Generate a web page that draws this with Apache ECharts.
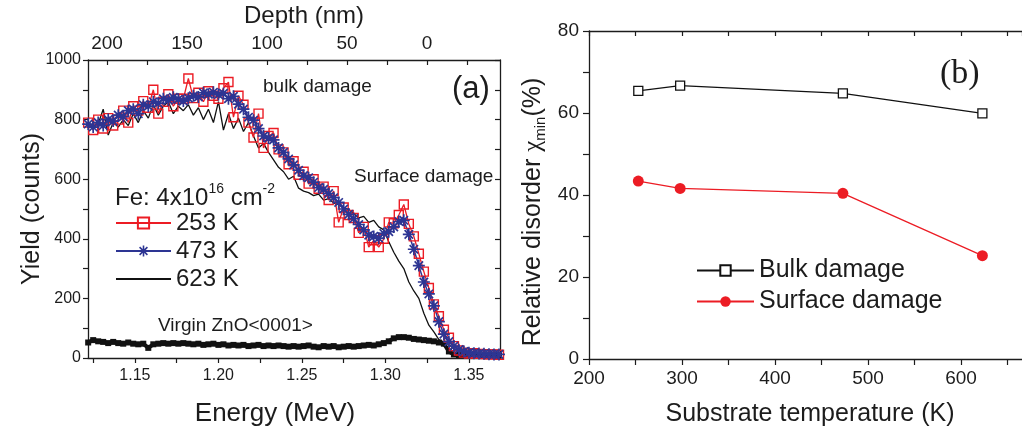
<!DOCTYPE html>
<html>
<head>
<meta charset="utf-8">
<script src="https://cdn.jsdelivr.net/npm/echarts@6/dist/echarts.min.js"></script>
<style>
  html, body { margin: 0; padding: 0; background: #fff; }
  #chart { width: 1022px; height: 432px; }
</style>
</head>
<body>
<div id="chart"></div>
<script>
// ---- (a) RBS/channeling spectra, Fe 4x10^16 cm^-2 in ZnO ----
const energyMeV = [
  1.122, 1.125, 1.128, 1.131, 1.134, 1.137, 1.140, 1.143, 1.146, 1.149,
  1.152, 1.155, 1.158, 1.161, 1.164, 1.167, 1.170, 1.173, 1.176, 1.179,
  1.182, 1.185, 1.188, 1.191, 1.194, 1.197, 1.200, 1.203, 1.206, 1.209,
  1.212, 1.215, 1.218, 1.221, 1.224, 1.227, 1.230, 1.233, 1.236, 1.239,
  1.242, 1.245, 1.248, 1.251, 1.254, 1.257, 1.260, 1.263, 1.266, 1.269,
  1.272, 1.275, 1.278, 1.281, 1.284, 1.287, 1.290, 1.293, 1.296, 1.299,
  1.302, 1.305, 1.308, 1.311, 1.314, 1.317, 1.320, 1.323, 1.326, 1.329,
  1.332, 1.335, 1.338, 1.341, 1.344, 1.347, 1.350, 1.353, 1.356, 1.359,
  1.362, 1.365, 1.368
];
const yield253K = [
  790, 765, 800, 770, 805, 780, 800, 830, 790, 845,
  830, 862, 840, 900, 820, 860, 885, 845, 870, 870,
  938, 872, 890, 860, 895, 880, 870, 905, 926, 808,
  880, 850, 790, 740, 820, 705, 745, 755, 700, 690,
  650, 660, 615, 625, 585, 600, 568, 575, 530, 560,
  455, 505, 480, 470, 420, 440, 372, 395, 372, 400,
  455, 452, 480, 515, 450, 408, 350, 290, 235, 180,
  140, 95, 68, 40, 25, 18, 15, 16, 14, 13,
  12, 12, 11
];
const yield473K = [
  785, 775, 790, 780, 800, 795, 815, 810, 830, 835,
  820, 850, 845, 860, 855, 870, 865, 875, 868, 862,
  872, 880, 876, 890, 885, 892, 884, 888, 870, 878,
  852, 835, 808, 798, 770, 745, 738, 732, 705, 690,
  668, 648, 630, 612, 605, 590, 572, 566, 552, 538,
  522, 500, 482, 468, 448, 430, 412, 408, 402, 418,
  424, 440, 458, 462, 415, 365, 310, 255, 215, 175,
  122, 80, 55, 40, 28, 22, 18, 16, 15, 14,
  13, 12, 12
];
const yield623K = [
  780, 770, 785, 835, 748, 790, 775, 800, 780, 820,
  790, 830, 805, 850, 815, 845, 860, 820, 845, 830,
  850, 815, 840, 800, 835, 790, 860, 765, 820, 770,
  805, 760, 790, 745, 705, 720, 690, 665, 640, 625,
  600, 610, 570, 560, 555, 545, 550, 530, 535, 520,
  515, 505, 498, 485, 470, 475, 455, 462, 440, 430,
  390, 355, 325, 300, 255, 225, 200, 150, 110, 88,
  62, 52, 45, 30, 20, 16, 14, 12, 12, 11,
  10, 10, 10
];
const yieldVirgin = [
  52, 60, 56, 54, 50, 54, 50, 48, 52, 48,
  46, 48, 34, 46, 48, 50, 48, 50, 48, 50,
  48, 46, 48, 44, 46, 48, 44, 46, 42, 44,
  42, 44, 40, 42, 44, 40, 42, 40, 42, 40,
  38, 40, 38, 40, 42, 38, 36, 40, 38, 40,
  36, 38, 40, 38, 40, 42, 44, 42, 46, 50,
  56, 66, 70, 70, 68, 64, 62, 60, 58, 56,
  52, 48, 22, 12, 10, 10, 8, 8, 8, 8,
  8, 8, 8
];
const energyTicks = [1.125, 1.15, 1.175, 1.2, 1.225, 1.25, 1.275, 1.3, 1.325, 1.35];
const energyLabels = [1.15, 1.2, 1.25, 1.3, 1.35];
const depthTicks = [200, 175, 150, 125, 100, 75, 50, 25, 0, -25];
const depthLabels = [200, 150, 100, 50, 0];

// ---- (b) relative disorder vs. substrate temperature ----
const substrateTempK = [253, 298, 473, 623];
const bulkDisorder = [65.4, 66.7, 64.8, 59.9];
const surfaceDisorder = [43.4, 41.6, 40.4, 25.2];

const FONT = '"Liberation Sans", Arial, Helvetica, sans-serif';
const SERIF = '"Liberation Serif", "Times New Roman", serif';
const INK = '#1c1c1c';
const RED = '#ec1c24';
const BLUE = '#2d3593';
// eight-armed asterisk built from four filled bars
const STAR = 'path://M4.3,0L5.7,0L5.7,10L4.3,10Z' +
             'M0,4.3L10,4.3L10,5.7L0,5.7Z' +
             'M2,1L9,8L8,9L1,2Z' +
             'M8,1L9,2L2,9L1,8Z';

const pairs = (xs, ys) => xs.map((x, i) => [x, ys[i]]);
const axisLine = { show: true, onZero: false, lineStyle: { color: INK, width: 1.3 } };
const tickStyle = { color: INK, width: 1.2 };

const chart = echarts.init(document.getElementById('chart'), null, { renderer: 'canvas' });

const option = {
  animation: false,
  backgroundColor: '#fff',
  textStyle: { fontFamily: FONT, color: INK },
  grid: [
    { left: 88, right: 522, top: 60, bottom: 74 },
    { left: 589, right: 0, top: 31, bottom: 73 }
  ],
  xAxis: [
    { // energy (bottom, panel a)
      gridIndex: 0, type: 'value', position: 'bottom',
      min: 1.1219, max: 1.3686,
      axisLine: axisLine,
      axisTick: { show: true, inside: false, length: 5, lineStyle: tickStyle, customValues: energyTicks },
      axisLabel: { customValues: energyLabels, formatter: v => v.toFixed(2), fontSize: 16, margin: 10, color: INK, fontFamily: FONT },
      splitLine: { show: false }
    },
    { // depth (top, panel a)
      gridIndex: 0, type: 'value', position: 'top', inverse: true,
      min: -45.6, max: 211.9,
      axisLine: axisLine,
      axisTick: { show: true, inside: true, length: 5, lineStyle: tickStyle, customValues: depthTicks },
      axisLabel: { customValues: depthLabels, fontSize: 19, margin: 7, color: INK, fontFamily: FONT },
      splitLine: { show: false }
    },
    { // temperature (bottom, panel b)
      gridIndex: 1, type: 'value', position: 'bottom',
      min: 200, max: 665.6, interval: 50,
      axisLine: axisLine,
      axisTick: { show: true, inside: false, length: 6, lineStyle: tickStyle },
      axisLabel: { formatter: v => (v % 100 === 0 ? String(v) : ''), fontSize: 19, margin: 10, color: INK, fontFamily: FONT, showMaxLabel: false },
      splitLine: { show: false }
    },
    { // temperature mirror (top, panel b)
      gridIndex: 1, type: 'value', position: 'top',
      min: 200, max: 665.6, interval: 50,
      axisLine: axisLine,
      axisTick: { show: true, inside: true, length: 5, lineStyle: tickStyle },
      axisLabel: { show: false },
      splitLine: { show: false }
    }
  ],
  yAxis: [
    { // yield (left, panel a)
      gridIndex: 0, type: 'value', position: 'left',
      min: 0, max: 1000, interval: 100,
      axisLine: axisLine,
      axisTick: { show: true, inside: false, length: 5, lineStyle: tickStyle },
      axisLabel: { formatter: v => (v % 200 === 0 ? String(v) : ''), fontSize: 16, margin: 7, color: INK, fontFamily: FONT },
      splitLine: { show: false }
    },
    { // yield mirror (right, panel a)
      gridIndex: 0, type: 'value', position: 'right',
      min: 0, max: 1000, interval: 100,
      axisLine: axisLine,
      axisTick: { show: true, inside: true, length: 5, lineStyle: tickStyle },
      axisLabel: { show: false },
      splitLine: { show: false }
    },
    { // disorder (left, panel b)
      gridIndex: 1, type: 'value', position: 'left',
      min: 0, max: 80, interval: 10,
      axisLine: axisLine,
      axisTick: { show: true, inside: false, length: 6, lineStyle: tickStyle },
      axisLabel: { formatter: v => (v % 20 === 0 ? String(v) : ''), fontSize: 19, margin: 10, color: INK, fontFamily: FONT },
      splitLine: { show: false }
    }
  ],
  legend: [
    {
      data: [
        { name: '253 K' },
        { name: '473 K' },
        { name: '623 K', itemStyle: { color: 'rgba(0,0,0,0)', borderColor: 'rgba(0,0,0,0)' } }
      ],
      orient: 'vertical', left: 115, top: 211, padding: 0,
      itemWidth: 55, itemHeight: 14, itemGap: 4, selectedMode: false,
      textStyle: { fontSize: 24, color: INK, fontFamily: FONT }
    },
    {
      data: ['Bulk damage', 'Surface damage'],
      orient: 'vertical', left: 696, top: 258, padding: 0,
      itemWidth: 57, itemHeight: 13, itemGap: 6, selectedMode: false,
      textStyle: { fontSize: 25, color: INK, fontFamily: FONT }
    }
  ],
  series: [
    {
      name: 'Virgin ZnO<0001>', type: 'line', xAxisIndex: 0, yAxisIndex: 0,
      data: pairs(energyMeV, yieldVirgin),
      symbol: 'rect', symbolSize: 6,
      itemStyle: { color: '#111' },
      lineStyle: { color: '#111', width: 4 },
      silent: true, emphasis: { disabled: true }
    },
    {
      name: '623 K', type: 'line', xAxisIndex: 0, yAxisIndex: 0,
      data: pairs(energyMeV, yield623K),
      symbol: 'none',
      itemStyle: { color: '#111' },
      lineStyle: { color: '#111', width: 1.3 },
      silent: true, emphasis: { disabled: true }
    },
    {
      name: '253 K', type: 'line', xAxisIndex: 0, yAxisIndex: 0,
      data: pairs(energyMeV, yield253K),
      symbol: 'rect', symbolSize: 9,
      itemStyle: { color: 'rgba(255,255,255,0)', borderColor: RED, borderWidth: 1.4 },
      lineStyle: { color: RED, width: 1.3 },
      silent: true, emphasis: { disabled: true }
    },
    {
      name: '473 K', type: 'line', xAxisIndex: 0, yAxisIndex: 0,
      data: pairs(energyMeV, yield473K),
      symbol: STAR, symbolSize: 12,
      itemStyle: { color: BLUE, borderWidth: 0 },
      lineStyle: { color: BLUE, width: 1.5 },
      silent: true, emphasis: { disabled: true }
    },
    {
      name: 'Bulk damage', type: 'line', xAxisIndex: 2, yAxisIndex: 2,
      data: pairs(substrateTempK, bulkDisorder),
      symbol: 'rect', symbolSize: 9,
      itemStyle: { color: '#fff', borderColor: '#111', borderWidth: 1.3 },
      lineStyle: { color: '#111', width: 1.2 },
      silent: true, emphasis: { disabled: true }
    },
    {
      name: 'Surface damage', type: 'line', xAxisIndex: 2, yAxisIndex: 2,
      data: pairs(substrateTempK, surfaceDisorder),
      symbol: 'circle', symbolSize: 11,
      itemStyle: { color: RED },
      lineStyle: { color: RED, width: 1.3 },
      silent: true, emphasis: { disabled: true }
    }
  ],
  graphic: {
    elements: [
      { type: 'text', x: 304, y: 16, silent: true,
        style: { text: 'Depth (nm)', fontSize: 24, fontFamily: FONT, fill: INK, align: 'center', verticalAlign: 'middle', textAlign: 'center', textVerticalAlign: 'middle' } },
      { type: 'text', x: 275, y: 414, silent: true,
        style: { text: 'Energy (MeV)', fontSize: 26, fontFamily: FONT, fill: INK, align: 'center', verticalAlign: 'middle', textAlign: 'center', textVerticalAlign: 'middle' } },
      { type: 'text', x: 32, y: 209, rotation: Math.PI / 2, silent: true,
        style: { text: 'Yield (counts)', fontSize: 25, fontFamily: FONT, fill: INK, align: 'center', verticalAlign: 'middle', textAlign: 'center', textVerticalAlign: 'middle' } },
      { type: 'text', x: 263, y: 87, silent: true,
        style: { text: 'bulk damage', fontSize: 19, fontFamily: FONT, fill: INK, align: 'left', verticalAlign: 'middle', textAlign: 'left', textVerticalAlign: 'middle' } },
      { type: 'text', x: 452, y: 89, silent: true,
        style: { text: '(a)', fontSize: 31, fontFamily: FONT, fill: INK, align: 'left', verticalAlign: 'middle', textAlign: 'left', textVerticalAlign: 'middle' } },
      { type: 'text', x: 354, y: 177, silent: true,
        style: { text: 'Surface damage', fontSize: 19, fontFamily: FONT, fill: INK, align: 'left', verticalAlign: 'middle', textAlign: 'left', textVerticalAlign: 'middle' } },
      { type: 'text', x: 158, y: 326, silent: true,
        style: { text: 'Virgin ZnO<0001>', fontSize: 19, fontFamily: FONT, fill: INK, align: 'left', verticalAlign: 'middle', textAlign: 'left', textVerticalAlign: 'middle' } },
      { type: 'text', x: 115, y: 196, silent: true,
        style: {
          text: '{m|Fe: 4x10}{s|16}{m| cm}{s|-2}',
          align: 'left', verticalAlign: 'middle', textAlign: 'left', textVerticalAlign: 'middle',
          rich: {
            m: { fontSize: 24, fontFamily: FONT, fill: INK, lineHeight: 28, verticalAlign: 'bottom' },
            s: { fontSize: 14, fontFamily: FONT, fill: INK, lineHeight: 14, verticalAlign: 'top' }
          }
        } },
      { type: 'text', x: 940, y: 74, silent: true,
        style: { text: '(b)', fontSize: 34, fontFamily: SERIF, fill: INK, align: 'left', verticalAlign: 'middle', textAlign: 'left', textVerticalAlign: 'middle' } },
      { type: 'text', x: 810, y: 414, silent: true,
        style: { text: 'Substrate temperature (K)', fontSize: 25, fontFamily: FONT, fill: INK, align: 'center', verticalAlign: 'middle', textAlign: 'center', textVerticalAlign: 'middle' } },
      { type: 'text', x: 533, y: 212, rotation: Math.PI / 2, silent: true,
        style: {
          text: '{m|Relative disorder }{c|\u03c7}{s|min}{m|(%)}',
          align: 'center', verticalAlign: 'middle', textAlign: 'center', textVerticalAlign: 'middle',
          rich: {
            m: { fontSize: 25, fontFamily: FONT, fill: INK, lineHeight: 30, verticalAlign: 'middle' },
            c: { fontSize: 25, fontFamily: SERIF, fill: INK, lineHeight: 30, verticalAlign: 'middle' },
            s: { fontSize: 15, fontFamily: FONT, fill: INK, lineHeight: 15, verticalAlign: 'bottom' }
          }
        } }
    ]
  }
};

chart.setOption(option);
</script>
</body>
</html>
